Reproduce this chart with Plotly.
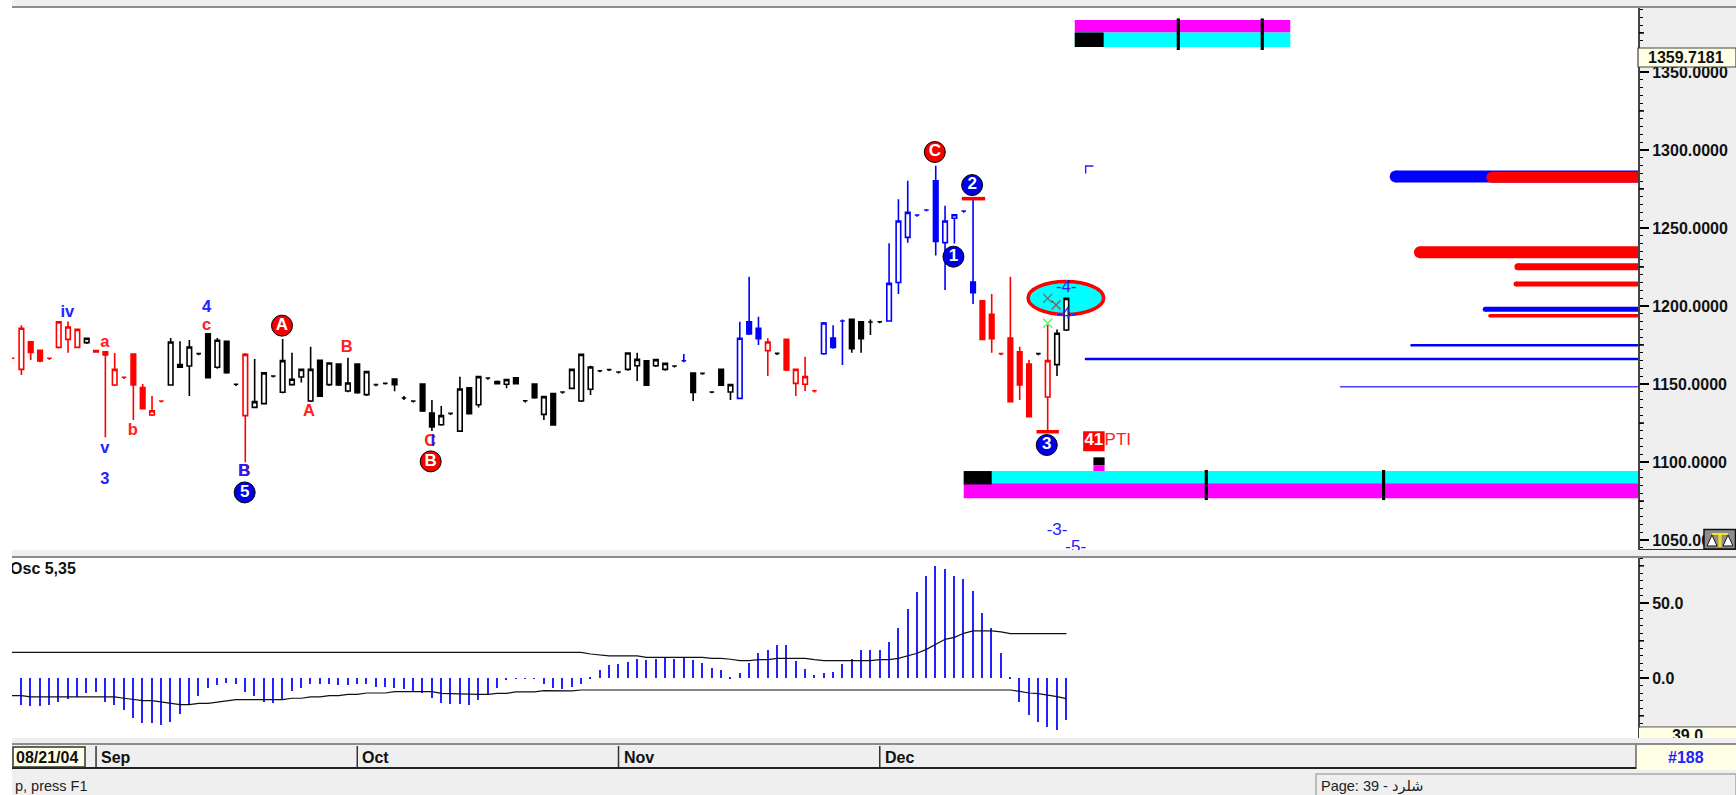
import plotly.graph_objects as go

W, H = 1736, 795

# ---- price candles (bar index -1 .. 112) ----
bar_index = list(range(-1, 113))
bar_group = list("r" * 8 + "k" + "r" * 8 + "k" * 8 + "r" + "k" * 46 + "b" + "k" * 5 + "bbb" + "r" + "k"
                 + "rrrr" + "bbb" + "kkkk" + "b" * 10 + "r" * 6 + "k" + "r" + "kk")
opens = [1166.5, 1159.4, 1177.1, 1171.6, 1166.5, 1173.5, 1178.6, 1173.5, 1176.5, 1171.4,
         1170.7, 1149.4, 1154.3, 1169.2, 1147.7, 1130.1, 1139.1, 1149.4, 1160.7, 1161.5,
         1169.5, 1182.1, 1160.7, 1177.4, 1149.8, 1129.7, 1135.0, 1137.4, 1155.1, 1144.7,
         1149.6, 1154.5, 1139.1, 1165.2, 1149.6, 1162.8, 1145.5, 1162.8, 1143.2, 1149.6,
         1150.4, 1153.2, 1141.0, 1139.1, 1150.0, 1131.4, 1123.9, 1131.2, 1119.8, 1147.6,
         1136.7, 1153.8, 1151.5, 1149.8, 1154.0, 1139.3, 1150.0, 1130.5, 1143.8, 1144.9,
         1147.2, 1139.1, 1146.6, 1158.5, 1159.2, 1157.7, 1159.4, 1161.7, 1164.9, 1161.7,
         1159.4, 1161.5, 1164.9, 1157.0, 1156.8, 1144.9, 1159.4, 1144.9, 1140.8, 1189.9,
         1185.7, 1171.4, 1169.6, 1178.6, 1150.4, 1149.8, 1145.7, 1169.4, 1179.5, 1190.4,
         1191.4, 1189.9, 1189.7, 1189.9, 1190.4, 1215.1, 1244.0, 1258.3, 1261.5, 1280.3,
         1240.6, 1256.2, 1260.9, 1215.4, 1203.4, 1194.7, 1169.5, 1179.5, 1170.7, 1162.8,
         1169.5, 1141.7, 1162.4, 1184.6]
highs = [1166.5, 1187.6, 1177.1, 1171.6, 1166.5, 1190.2, 1190.0, 1185.3, 1179.6, 1171.4,
         1170.7, 1169.9, 1154.3, 1169.2, 1150.0, 1142.3, 1139.1, 1179.5, 1177.4, 1178.2,
         1169.5, 1182.1, 1179.5, 1177.4, 1149.8, 1169.9, 1166.0, 1157.4, 1155.1, 1178.9,
         1170.1, 1159.7, 1173.9, 1165.2, 1163.8, 1162.8, 1166.9, 1162.8, 1158.2, 1149.6,
         1150.4, 1153.2, 1142.3, 1139.1, 1150.0, 1139.7, 1135.9, 1131.2, 1154.7, 1147.6,
         1154.9, 1153.8, 1152.3, 1153.0, 1154.0, 1139.3, 1150.0, 1142.1, 1143.8, 1144.9,
         1159.7, 1169.6, 1161.7, 1158.5, 1159.2, 1157.7, 1170.2, 1170.1, 1164.9, 1165.9,
         1163.5, 1161.5, 1169.2, 1157.0, 1156.8, 1144.9, 1159.4, 1149.9, 1189.9, 1218.8,
         1193.1, 1179.3, 1169.6, 1178.6, 1159.7, 1167.5, 1145.7, 1189.7, 1187.6, 1191.4,
         1191.4, 1189.9, 1191.4, 1189.9, 1240.2, 1268.4, 1280.3, 1258.3, 1261.5, 1289.9,
         1264.3, 1258.8, 1260.9, 1269.0, 1203.4, 1207.7, 1169.5, 1218.8, 1173.9, 1165.4,
         1169.5, 1187.8, 1185.0, 1205.4]
lows = [1166.2, 1155.8, 1165.4, 1163.9, 1165.4, 1172.7, 1170.1, 1173.1, 1175.6, 1170.5,
        1115.8, 1148.7, 1153.2, 1126.9, 1133.8, 1129.5, 1138.2, 1148.9, 1160.3, 1142.3,
        1168.4, 1153.6, 1159.8, 1156.6, 1148.7, 1099.8, 1134.4, 1136.8, 1154.1, 1144.0,
        1148.9, 1150.9, 1138.5, 1141.7, 1148.7, 1148.7, 1144.7, 1143.8, 1142.3, 1148.5,
        1149.6, 1145.3, 1139.7, 1138.2, 1132.1, 1119.9, 1123.3, 1130.1, 1119.2, 1130.5,
        1135.0, 1152.8, 1149.6, 1147.2, 1149.6, 1138.2, 1140.6, 1126.9, 1123.3, 1143.8,
        1146.6, 1138.4, 1142.9, 1157.5, 1158.3, 1156.8, 1158.5, 1151.9, 1148.7, 1160.9,
        1158.5, 1160.5, 1163.9, 1139.1, 1156.0, 1144.0, 1148.7, 1139.7, 1140.2, 1181.4,
        1175.0, 1155.1, 1168.6, 1158.3, 1142.3, 1145.5, 1144.6, 1168.8, 1172.6, 1162.2,
        1170.1, 1170.1, 1181.4, 1188.9, 1189.9, 1207.7, 1240.6, 1257.2, 1260.7, 1232.4,
        1210.2, 1240.1, 1259.8, 1201.2, 1178.2, 1170.1, 1168.4, 1138.2, 1139.7, 1128.6,
        1168.4, 1119.4, 1155.1, 1184.0]
closes = [1166.5, 1185.7, 1170.3, 1164.7, 1166.5, 1189.8, 1186.5, 1185.0, 1179.3, 1170.5,
          1168.6, 1159.4, 1154.3, 1149.4, 1134.2, 1132.9, 1139.1, 1176.9, 1162.4, 1173.7,
          1169.5, 1154.1, 1178.0, 1157.3, 1149.8, 1169.0, 1138.7, 1157.1, 1155.1, 1165.0,
          1153.0, 1159.4, 1159.4, 1142.1, 1163.5, 1149.4, 1150.6, 1144.4, 1157.9, 1149.6,
          1150.4, 1149.6, 1141.0, 1139.1, 1132.7, 1122.4, 1129.7, 1131.2, 1146.8, 1131.0,
          1154.7, 1153.8, 1150.2, 1152.8, 1150.2, 1139.3, 1141.2, 1141.9, 1123.7, 1144.9,
          1159.4, 1169.0, 1160.9, 1158.5, 1159.2, 1157.7, 1169.9, 1165.8, 1149.3, 1165.6,
          1163.2, 1161.5, 1164.9, 1144.6, 1156.8, 1144.9, 1149.3, 1149.6, 1179.3, 1182.0,
          1179.0, 1176.9, 1169.6, 1159.0, 1159.4, 1154.7, 1145.7, 1189.1, 1173.5, 1190.4,
          1172.6, 1179.0, 1189.7, 1189.9, 1214.5, 1254.5, 1260.0, 1258.3, 1261.5, 1241.4,
          1254.5, 1258.5, 1260.9, 1208.5, 1178.6, 1179.1, 1169.5, 1138.7, 1149.4, 1129.1,
          1169.5, 1165.0, 1182.5, 1204.9]

# ---- oscillator ----
osc_index = list(range(0, 113))
osc_values = [-18, -18.7, -18.7, -18, -15.6, -13.8, -12.7, -9.6, -8.9, -15.6,
              -18, -21.3, -26.2, -29.6, -29.6, -31.3, -28.9, -23.8, -18, -11.8,
              -6.4, -4.4, -3.3, -4, -8.9, -11.8, -15.6, -16.4, -14.7, -8.2,
              -6.4, -4, -4, -4, -4.7, -4.7, -4, -4, -5.8, -5.8,
              -6.4, -7.3, -8.2, -9.8, -13.1, -16.4, -17.3, -17.3, -18, -14.7,
              -10.7, -6.4, -0.7, -0.3, -0.1, -0.3, -4, -6.4, -7.1, -5.8,
              -3.8, 0.7, 5.3, 8.7, 9.3, 11.1, 12.7, 12.2, 12.7, 13.8,
              12.9, 13.8, 12, 10.2, 6.9, 5.3, 1.1, 3.6, 10.2, 16.9,
              18.7, 22, 22, 11.8, 6.2, 2, 3.6, 4.4, 9.3, 12.7,
              18.7, 18.7, 18.7, 24.4, 33.6, 46, 57.6, 68.4, 75.1, 72.7,
              68.4, 66, 58.4, 43.6, 33.6, 16.9, 1.1, -15.6, -24.7, -28.9,
              -32.2, -34.7, -28]
upper_band = [17.3] * 62 + [16.2, 15.6, 14.9, 14.9, 14.9, 14.9, 14, 14, 14, 14,
              14, 14, 14, 13.3, 13.3, 12.7, 11.8, 11.8, 12.4, 12.4,
              13.3, 13.3, 13.3, 13.3, 12.4, 11.8, 11.8, 11.8, 11.8, 11.8,
              11.8, 12.4, 12.4, 13.3, 14.9, 16.7, 19.3, 22.7, 26, 27.3,
              30, 31.6, 31.6, 31.6, 30.9, 29.8, 29.8, 29.8, 29.8, 29.8,
              29.8, 29.8]
lower_band = [-11.6, -11.6, -12.4, -12.4, -12.4, -12.4, -12.4, -12.4, -12.4, -12.4,
              -12.4, -12.4, -13.3, -14.2, -14.9, -14.9, -15.8, -16.7, -17.6, -17.6,
              -16.7, -16.7, -15.8, -14.9, -14.2, -14.2, -14.2, -14.2, -14.2, -14.2,
              -13.3, -13.3, -12.4, -12.4, -11.6, -11.6, -10.7, -10.7, -9.8, -9.8,
              -9.8, -8.9, -8.9, -8.9, -8.9, -8.9, -10, -10.2, -10.7, -10.7,
              -10.7, -10.7, -10, -10, -9.1, -9.1, -9.1, -8.2, -8.2, -8.2,
              -8.4, -7.8, -7.8, -7.8, -7.8, -7.8, -7.8, -7.8, -7.8, -7.8,
              -7.8, -7.8, -7.8, -7.8, -7.8, -7.8, -7.8, -7.8, -7.8, -7.8,
              -7.8, -7.8, -7.8, -7.8, -7.8, -7.8, -7.8, -7.8, -7.8, -7.8,
              -7.8, -7.8, -7.8, -7.8, -7.8, -7.8, -7.8, -7.8, -7.8, -7.8,
              -7.8, -7.8, -7.8, -7.8, -7.8, -7.8, -7.8, -7.8, -8.7, -9.8,
              -10.2, -11.1, -12.2, -13.6]

# ---- projection levels ----
level_price = [1283.0, 1282.5, 1234.4, 1225.2, 1214.1, 1197.9, 1193.8, 1174.8, 1166.0, 1148.3]
level_start = [147.3, 157.6, 149.9, 160.4, 160.2, 156.9, 157.4, 149.0, 114.1, 141.4]
level_color = ["#0000FF", "#FF0000", "#FF0000", "#FF0000", "#FF0000", "#0000FF", "#FF0000", "#0000FF", "#0000FF", "#4444FF"]
level_width = [12, 11, 12, 7, 5, 5, 3.5, 2.5, 2.5, 1.5]

# ---- time bands ----
top_band_x = [112.9, 136.0]
top_band_black_x = [112.9, 116.0]
top_band_prices = [1383.3, 1375.3, 1366.0]
top_band_ticks = [124, 133]
top_band_tick_prices = [1384.3, 1364.1]
low_band_x = [101.0, 173.3]
low_band_black_x = [101.0, 104.0]
low_band_prices = [1094.2, 1086.4, 1076.7]
low_band_ticks = [127, 146]
low_band_tick_prices = [1094.9, 1075.6]

# ---- labels ----
text_labels = ["iv", "a", "v", "3", "b", "4", "c", "B", "B", "A", "B", "C", "I"]
text_x = [4.92, 8.93, 8.93, 8.93, 11.93, 19.86, 19.86, 23.93, 23.85, 30.83, 34.87, 43.83, 44.1]
text_price = [1195.7, 1176.5, 1108.3, 1088.5, 1119.9, 1198.5, 1187.4, 1093.6, 1093.6, 1132.3, 1172.9, 1113.2, 1113.2]
text_color = ["#2222FF", "#FF2020", "#2222FF", "#2222FF", "#FF2020", "#2222FF", "#FF2020", "#FF2020", "#2222FF", "#FF2020", "#FF2020", "#FF2020", "#2222FF"]

circle_labels = ["5", "A", "B", "C", "2", "1", "3"]
circle_x = [23.93, 27.93, 43.87, 97.9, 101.9, 99.9, 109.9]
circle_price = [1080.5, 1187.4, 1100.4, 1298.7, 1277.5, 1231.6, 1110.9]
circle_color = ["#0000E8", "#F40000", "#F40000", "#F40000", "#0000E8", "#0000E8", "#0000E8"]

dash_labels = ["-4-", "-4-", "-3-", "-5-"]
dash_x = [112.0, 112.0, 111.0, 113.0]
dash_price = [1211.9, 1194.2, 1056.0, 1045.3]

cross_x = [110.0, 110.9, 110.0]
cross_price = [1204.9, 1200.6, 1188.9]
cross_color = ["#A05050", "#A05050", "#60F060"]

stop_x = [[100.8, 103.3], [108.8, 111.2]]
stop_price = [1268.8, 1119.4]

month_labels = ["Sep", "Oct", "Nov", "Dec"]
month_index = [8, 36, 64, 92]

price_ticks_25 = [1375, 1325, 1275, 1225, 1175, 1125, 1075]
osc_ticks_25 = [75, 25, -25]

X_RANGE = [-1.0075, 173.27]
PANEL = "#EFEFEF"
PALE = "#FFFFE6"


def fx(p):
    return p / W


def fy(p):
    return 1 - p / H


def rect(x0, y0, x1, y1, fill, line=None, lw=1, layer="below"):
    return dict(type="rect", xref="paper", yref="paper", x0=fx(x0), x1=fx(x1), y0=fy(y0), y1=fy(y1),
                fillcolor=fill, line=dict(color=line or fill, width=lw if line else 0), layer=layer)


def data_rect(x0, x1, y0, y1, fill, xref="x", yref="y", layer="below"):
    return dict(type="rect", xref=xref, yref=yref, x0=x0, x1=x1, y0=y0, y1=y1,
                fillcolor=fill, line=dict(width=0), layer=layer)


fig = go.Figure()

# candles, one trace per colour group
palette = {"r": "#FF0000", "k": "#000000", "b": "#0000FF"}
for key, col in palette.items():
    idx = [j for j, g in enumerate(bar_group) if g == key]
    fig.add_trace(go.Candlestick(
        x=[bar_index[j] for j in idx],
        open=[opens[j] for j in idx], high=[highs[j] for j in idx],
        low=[lows[j] for j in idx], close=[closes[j] for j in idx],
        whiskerwidth=0, xaxis="x", yaxis="y", hoverinfo="skip", showlegend=False,
        increasing=dict(line=dict(color=col, width=1.6), fillcolor="#FFFFFF"),
        decreasing=dict(line=dict(color=col, width=1.6), fillcolor=col)))

# levels
for p, s, c, w in zip(level_price, level_start, level_color, level_width):
    fig.add_trace(go.Scatter(x=[s, X_RANGE[1]], y=[p, p], mode="lines+markers",
                             line=dict(color=c, width=w),
                             marker=dict(color=c, size=[w, 0], opacity=1, line=dict(width=0)),
                             xaxis="x", yaxis="y", hoverinfo="skip", showlegend=False))

# stop bars
for xs, p in zip(stop_x, stop_price):
    fig.add_trace(go.Scatter(x=xs, y=[p, p], mode="lines", line=dict(color="#FF0000", width=3.5),
                             xaxis="x", yaxis="y", hoverinfo="skip", showlegend=False))

# small corner mark
fig.add_trace(go.Scatter(x=[114.07, 114.07, 114.9], y=[1285.0, 1289.7, 1289.7], mode="lines",
                         line=dict(color="#2222FF", width=1.4), xaxis="x", yaxis="y",
                         hoverinfo="skip", showlegend=False))

# crosses
fig.add_trace(go.Scatter(x=cross_x, y=cross_price, mode="markers",
                         marker=dict(symbol="x-thin", size=9, line=dict(color=cross_color, width=1.3)),
                         xaxis="x", yaxis="y", hoverinfo="skip", showlegend=False))

# letters
fig.add_trace(go.Scatter(x=text_x, y=text_price, mode="text", text=text_labels,
                         textfont=dict(family="Liberation Sans", size=16.5, color=text_color, weight="bold"),
                         textposition="middle center", xaxis="x", yaxis="y", hoverinfo="skip", showlegend=False))
fig.add_trace(go.Scatter(x=dash_x, y=dash_price, mode="text", text=dash_labels,
                         textfont=dict(family="Liberation Sans", size=17, color="#2222FF"),
                         textposition="middle center", xaxis="x", yaxis="y", hoverinfo="skip", showlegend=False))

# circled labels
fig.add_trace(go.Scatter(x=circle_x, y=circle_price, mode="markers+text", text=circle_labels,
                         marker=dict(size=21, color=circle_color, line=dict(color="#000000", width=1)),
                         textfont=dict(family="Liberation Sans", size=17, color="#FFFFFF", weight="bold"),
                         textposition="middle center", xaxis="x", yaxis="y", hoverinfo="skip", showlegend=False))

# 41 / PTI
fig.add_trace(go.Scatter(x=[114.95], y=[1113.4], mode="text", text=["41"],
                         textfont=dict(family="Liberation Sans", size=17, color="#FFFFFF", weight="bold"),
                         xaxis="x", yaxis="y", hoverinfo="skip", showlegend=False))
fig.add_trace(go.Scatter(x=[116.1], y=[1113.4], mode="text", text=["PTI"], textposition="middle right",
                         textfont=dict(family="Liberation Sans", size=17, color="#FF2020"),
                         xaxis="x", yaxis="y", hoverinfo="skip", showlegend=False))

# oscillator
fig.add_trace(go.Bar(x=osc_index, y=osc_values, width=0.16, marker=dict(color="#2222FF", line=dict(width=0)),
                     xaxis="x2", yaxis="y2", hoverinfo="skip", showlegend=False))
for band in (upper_band, lower_band):
    fig.add_trace(go.Scatter(x=bar_index, y=band, mode="lines", line=dict(color="#111111", width=1.2),
                             xaxis="x2", yaxis="y2", hoverinfo="skip", showlegend=False))
fig.add_trace(go.Scatter(x=[-1.22], y=[72.3], mode="text", text=["Osc 5,35"], textposition="middle right",
                         textfont=dict(family="Liberation Sans", size=16, color="#111111", weight="bold"),
                         xaxis="x2", yaxis="y2", hoverinfo="skip", showlegend=False))

# clipped value readout at the foot of the oscillator scale
fig.add_trace(go.Scatter(x=[0.5], y=[736.6], mode="text", text=["39.0"],
                         textfont=dict(family="Liberation Sans", size=16, color="#111111", weight="bold"),
                         xaxis="x3", yaxis="y3", hoverinfo="skip", showlegend=False))

shapes = [
    rect(0, 6, W, 8, "#8C8C8C"),
    rect(1638, 549, W, 550, "#333333"),
    rect(0, 556, W, 558, "#8C8C8C"),
    rect(1638, 726.5, W, 727.5, "#444444"),
    rect(0, 743, W, 745, "#8C8C8C"),
    rect(0, 767, 1636, 769, "#222222"),
    rect(1636, 745, W, 770, PALE),
    rect(1635.5, 745, 1636.5, 769, "#222222"),
    rect(1316, 774, W, H + 2, PANEL, line="#AAAAAA", lw=1.5),
    rect(13, 747, 85, 767, PALE, line="#333333", lw=1.5),
    # pale backing of the clipped readout
    dict(type="rect", xref="x3", yref="y3", x0=0, x1=1, y0=738, y1=727.5, fillcolor=PALE,
         line=dict(width=0), layer="below"),
    # ellipse and time bands on the price scale
    dict(type="circle", xref="x", yref="y", x0=107.9, x1=116.0, y0=1194.6, y1=1215.7,
         fillcolor="#00FFFF", line=dict(color="#FF0000", width=3.5), layer="below"),
    data_rect(top_band_x[0], top_band_x[1], top_band_prices[1], top_band_prices[0], "#FF00FF"),
    data_rect(top_band_x[0], top_band_x[1], top_band_prices[2], top_band_prices[1], "#00FFFF"),
    data_rect(top_band_black_x[0], top_band_black_x[1], top_band_prices[2], top_band_prices[1], "#000000"),
    data_rect(low_band_x[0], low_band_x[1], low_band_prices[1], low_band_prices[0], "#00FFFF"),
    data_rect(low_band_x[0], low_band_x[1], low_band_prices[2], low_band_prices[1], "#FF00FF"),
    data_rect(low_band_black_x[0], low_band_black_x[1], low_band_prices[1] - 0.8, low_band_prices[0], "#000000"),
    data_rect(114.9, 116.1, 1098.0, 1103.0, "#000000"),
    data_rect(114.9, 116.1, 1094.2, 1098.0, "#FF00FF"),
    data_rect(113.8, 116.1, 1106.9, 1119.7, "#FF0000"),
]
for t in top_band_ticks:
    shapes.append(dict(type="line", xref="x", yref="y", x0=t, x1=t, y0=top_band_tick_prices[0], y1=top_band_tick_prices[1],
                       line=dict(color="#000000", width=3.2), layer="above"))
for t in low_band_ticks:
    shapes.append(dict(type="line", xref="x", yref="y", x0=t, x1=t, y0=low_band_tick_prices[0], y1=low_band_tick_prices[1],
                       line=dict(color="#000000", width=3.2), layer="above"))
for v in price_ticks_25:
    shapes.append(dict(type="line", xref="paper", yref="y", x0=fx(1639), x1=fx(1644), y0=v, y1=v,
                       line=dict(color="#000000", width=1.5), layer="above"))
for v in osc_ticks_25:
    shapes.append(dict(type="line", xref="paper", yref="y2", x0=fx(1639), x1=fx(1644), y0=v, y1=v,
                       line=dict(color="#000000", width=1.5), layer="above"))
for m in month_index:
    shapes.append(dict(type="line", xref="x", yref="paper", x0=m, x1=m, y0=fy(746), y1=fy(767),
                       line=dict(color="#333333", width=1.5), layer="above"))

# readout box covering the scale, scale icon
shapes.append(rect(1638, 48, W, 67, PALE, line="#444444", lw=1.2, layer="above"))
shapes.append(rect(1704, 529.5, W - 0.5, 549, "#8E8E8E", line="#111111", lw=1.5, layer="above"))


def tri(cx):
    return (f"M {fx(cx-5)} {fy(546)} L {fx(cx)} {fy(535)} L {fx(cx+5)} {fy(546)} Z")


shapes.append(dict(type="path", xref="paper", yref="paper", path=tri(1712), fillcolor="#FFFFFF",
                   line=dict(color="#111111", width=1), layer="above"))
shapes.append(dict(type="path", xref="paper", yref="paper", path=tri(1728), fillcolor="#FFFFFF",
                   line=dict(color="#111111", width=1), layer="above"))
shapes.append(rect(1718.5, 533, 1721.5, 547, "#F5E020", layer="above"))
shapes.append(rect(1712, 533, 1728, 535, "#F5E020", layer="above"))
# left white strip
shapes.append(rect(0, 0, 12, H, "#FFFFFF", layer="above"))

FONT = "Liberation Sans, DejaVu Sans"
bold16 = dict(family=FONT, size=16, color="#111111", weight="bold")


def note(x, y, text, font, anchor="left"):
    return dict(xref="paper", yref="paper", x=fx(x), y=fy(y), text=text, showarrow=False, font=font,
                xanchor=anchor, yanchor="middle")


annotations = [
    note(1686, 58, "1359.7181", bold16, "center"),
    note(1686, 757, "#188", dict(family=FONT, size=16, color="#2222FF", weight="bold"), "center"),
    note(14, 757, "08/21/04", bold16),
    note(13, 786, "p, press F1", dict(family=FONT, size=14.5, color="#222222")),
    note(1319, 786, "Page: 39 - شلرد", dict(family=FONT, size=14.5, color="#222222")),
]
for name, m in zip(month_labels, month_index):
    annotations.append(dict(xref="x", yref="paper", x=m, y=fy(757), xanchor="left", yanchor="middle", xshift=3,
                            text=name, showarrow=False, font=bold16))

axis_tick = dict(ticks="outside", ticklen=9, tickwidth=1.5, tickcolor="#000000", showline=True,
                 linecolor="#444444", linewidth=2, showgrid=False, zeroline=False, side="right",
                 tickfont=bold16)
minor_tick = dict(ticks="outside", ticklen=2.5, tickwidth=1, tickcolor="#000000", showgrid=False)

fig.update_layout(
    width=W, height=H, margin=dict(l=0, r=0, t=0, b=0), autosize=False,
    paper_bgcolor=PANEL, plot_bgcolor="#FFFFFF", showlegend=False, hovermode=False,
    bargap=0, shapes=shapes, annotations=annotations,
    xaxis=dict(domain=[fx(12), fx(1638)], range=X_RANGE, showticklabels=False, ticks="", showgrid=False,
               zeroline=False, rangeslider=dict(visible=False), anchor="y", showline=False, fixedrange=True),
    xaxis2=dict(domain=[fx(12), fx(1638)], range=X_RANGE, showticklabels=False, ticks="", showgrid=False,
                zeroline=False, anchor="y2", showline=False, fixedrange=True),
    xaxis3=dict(domain=[fx(1639), fx(W)], range=[0, 1], visible=False, anchor="y3", fixedrange=True),
    yaxis=dict(domain=[fy(550), fy(8)], range=[1043.6, 1391.0], anchor="x", tickmode="linear", tick0=0, dtick=50,
               tickformat=".4f", minor=dict(tick0=0, dtick=5, **minor_tick), fixedrange=True, **axis_tick),
    yaxis2=dict(domain=[fy(738), fy(558)], range=[-39.8, 80.2], anchor="x2", tickmode="linear", tick0=0, dtick=50,
                tickformat=".1f", minor=dict(tickmode="array", tickvals=list(range(-30, 81, 5)), **minor_tick),
                fixedrange=True, **axis_tick),
    yaxis3=dict(domain=[fy(738), fy(727.5)], range=[738, 727.5], visible=False, anchor="x3", fixedrange=True),
)

fig.write_html("out.html", config={"displayModeBar": False},
               post_script="document.body.style.margin='0';document.body.style.overflow='hidden';")
